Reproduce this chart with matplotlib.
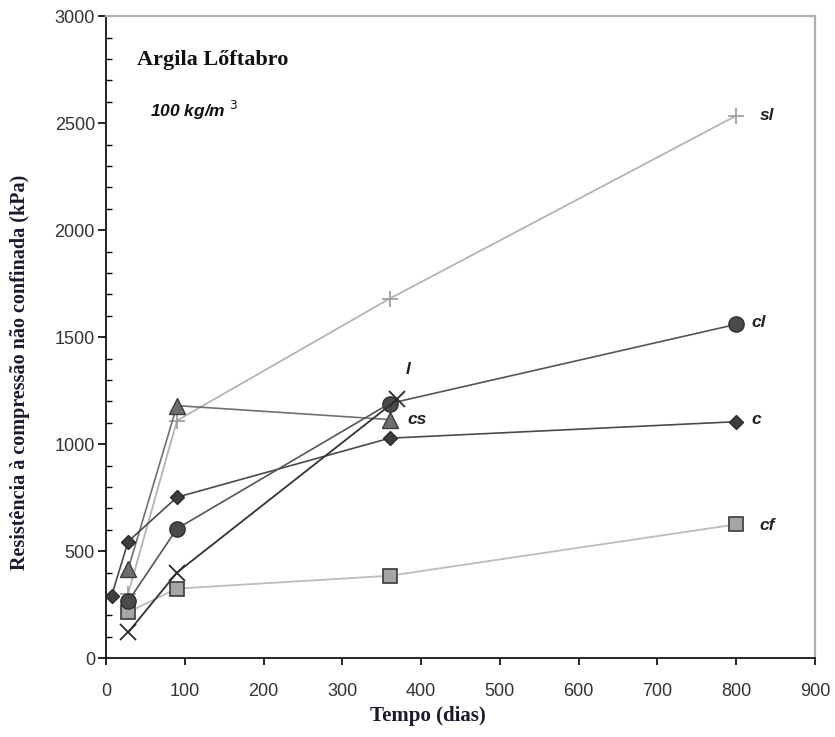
import matplotlib.pyplot as plt
from matplotlib.ticker import MultipleLocator

# curing time (days) and unconfined compressive strength (kPa) per binder
c_days = [7, 28, 90, 360, 800]
c_kpa = [290, 545, 752, 1028, 1105]

cl_days = [28, 90, 360, 800]
cl_kpa = [265, 605, 1190, 1560]

cs_days = [28, 90, 360]
cs_kpa = [415, 1180, 1115]

sl_days = [28, 90, 360, 800]
sl_kpa = [300, 1110, 1680, 2535]

l_days = [28, 90, 370]
l_kpa = [120, 400, 1210]

cf_days = [28, 90, 360, 800]
cf_kpa = [215, 325, 385, 625]

fig = plt.figure(figsize=(8.35, 7.37), dpi=100)
ax = fig.add_axes([0.127, 0.107, 0.849, 0.871])

ax.plot(sl_days, sl_kpa, color='#b4b4b4', lw=1.3, marker='+', ms=12,
        mew=1.2, mec='#9a9a9a', zorder=2)
ax.plot(cf_days, cf_kpa, color='#bdbdbd', lw=1.3, marker='s', ms=10,
        mfc='#a6a6a6', mec='#3a3a3a', mew=1.2, zorder=3)
ax.plot(cs_days, cs_kpa, color='#707070', lw=1.2, marker='^', ms=11,
        mfc='#6e6e6e', mec='#3c3c3c', mew=1.0, zorder=3)
ax.plot(c_days, c_kpa, color='#4a4a4a', lw=1.2, marker='D', ms=7.5,
        mfc='#3e3e3e', mec='#2a2a2a', zorder=4)
ax.plot(cl_days, cl_kpa, color='#555555', lw=1.2, marker='o', ms=11,
        mfc='#4a4a4a', mec='#2e2e2e', zorder=4)
ax.plot(l_days, l_kpa, color='#333333', lw=1.3, marker='x', ms=12,
        mew=1.3, mec='#2a2a2a', zorder=5)

lab = dict(fontsize=12.5, fontweight='bold', fontstyle='italic',
           family='Liberation Sans', color='#222222')
ax.text(830, 2535, 'sl', va='center', **lab)
ax.text(820, 1570, 'cl', va='center', **lab)
ax.text(820, 1115, 'c', va='center', **lab)
ax.text(830, 620, 'cf', va='center', **lab)
ax.text(383, 1115, 'cs', va='center', **lab)
ax.text(380, 1350, 'l', va='center', **lab)

ax.text(39, 2795, 'Argila Lőftabro', fontsize=16, fontweight='bold',
        family='Liberation Serif', color='#111111', va='center')
ax.text(56, 2560, '100 kg/m $^{3}$', fontsize=12.5, fontweight='bold',
        fontstyle='italic', family='Liberation Sans', color='#111111',
        va='center')

ax.set_xlim(0, 900)
ax.set_ylim(0, 3000)
ax.xaxis.set_major_locator(MultipleLocator(100))
ax.yaxis.set_major_locator(MultipleLocator(500))
ax.yaxis.set_minor_locator(MultipleLocator(100))
ax.tick_params(axis='x', direction='out', length=5, width=1.2,
               labelsize=13, labelcolor='#333333', pad=13)
ax.tick_params(axis='y', which='major', direction='out', length=6,
               width=1.2, labelsize=13, labelcolor='#333333', pad=2)
ax.tick_params(axis='y', which='minor', direction='in', length=4, width=1.0)
for lbl in ax.get_xticklabels() + ax.get_yticklabels():
    lbl.set_family('Liberation Sans')

ax.spines['left'].set_linewidth(1.2)
ax.spines['bottom'].set_linewidth(1.2)
ax.spines['top'].set_color('#b0b0b0')
ax.spines['right'].set_color('#b0b0b0')
ax.spines['top'].set_linewidth(1.6)
ax.spines['right'].set_linewidth(1.6)

ax.set_xlabel('Tempo (dias)', fontsize=15, fontweight='bold',
              family='Liberation Serif', color='#1a1a2e')
ax.set_ylabel('Resistência à compressão não confinada (kPa)', fontsize=14.5,
              fontweight='bold', family='Liberation Serif', color='#1a1a2e')
ax.xaxis.set_label_coords(0.454, -0.074)
ax.yaxis.set_label_coords(-0.107, 0.445)

fig.savefig('out.png', dpi=100)
